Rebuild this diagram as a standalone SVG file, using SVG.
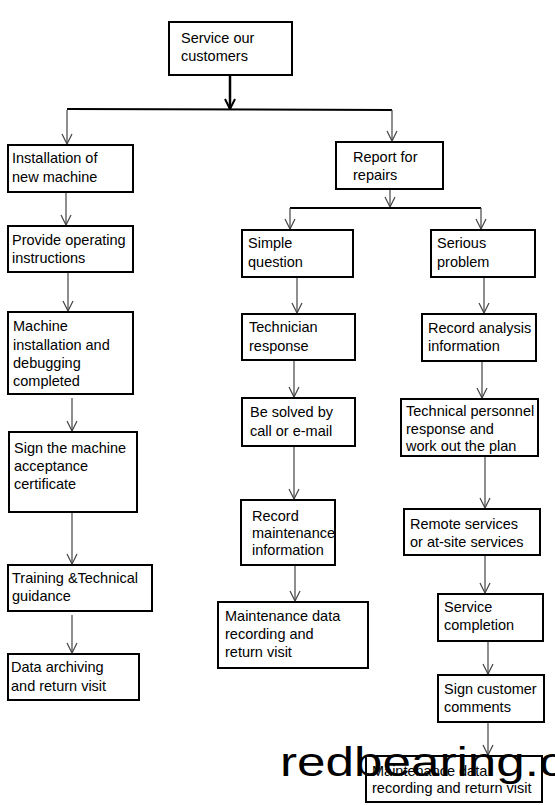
<svg xmlns="http://www.w3.org/2000/svg" width="555" height="805" viewBox="0 0 555 805">
<style>
.box{fill:none;stroke:#000;stroke-width:2}
.t{font-family:"Liberation Sans",Arial,sans-serif;font-size:14.5px;fill:#000}
.c{stroke:#444;stroke-width:1.2;fill:none;marker-end:url(#ah)}
.bar{stroke:#000;stroke-width:2;fill:none}
.wm{font-family:"Liberation Sans",Arial,sans-serif;font-size:40px;fill:#000}
</style>
<defs>
<marker id="ah" viewBox="-11 -6 12 12" refX="0" refY="0" markerWidth="12" markerHeight="12" markerUnits="userSpaceOnUse" orient="auto">
<path d="M-10,-5 L0,0 L-10,5" fill="none" stroke="#444" stroke-width="1.2"/>
</marker>
<marker id="ahb" viewBox="-11 -6 12 12" refX="0" refY="0" markerWidth="12" markerHeight="12" markerUnits="userSpaceOnUse" orient="auto">
<path d="M-10,-5 L0,0 L-10,5" fill="none" stroke="#000" stroke-width="2"/>
</marker>
</defs>
<rect width="555" height="805" fill="#fff"/>
<g id="connectors">
<line x1="230" y1="75" x2="230" y2="109" stroke="#000" stroke-width="2.5" marker-end="url(#ahb)"/>
<line class="bar" x1="67" y1="109" x2="392" y2="110"/>
<line class="c" x1="67" y1="110" x2="67" y2="144"/>
<line class="c" x1="392" y1="110" x2="392" y2="141"/>
<line class="c" x1="390" y1="189" x2="390" y2="207"/>
<line class="bar" x1="290" y1="208" x2="481" y2="208"/>
<line class="c" x1="290" y1="208" x2="290" y2="229"/>
<line class="c" x1="481" y1="208" x2="481" y2="229"/>
<line class="c" x1="66" y1="192" x2="66" y2="225"/>
<line class="c" x1="68" y1="272" x2="68" y2="311"/>
<line class="c" x1="72" y1="398" x2="72" y2="431"/>
<line class="c" x1="72" y1="513" x2="72" y2="564"/>
<line class="c" x1="72" y1="615" x2="72" y2="653"/>
<line class="c" x1="297" y1="277" x2="297" y2="313"/>
<line class="c" x1="294" y1="361" x2="294" y2="397"/>
<line class="c" x1="294" y1="446" x2="294" y2="499"/>
<line class="c" x1="295" y1="566" x2="295" y2="601"/>
<line class="c" x1="484" y1="277" x2="484" y2="313"/>
<line class="c" x1="482" y1="361" x2="482" y2="398"/>
<line class="c" x1="485" y1="456" x2="485" y2="508"/>
<line class="c" x1="485" y1="556" x2="485" y2="593"/>
<line class="c" x1="488" y1="641" x2="488" y2="674"/>
<line class="c" x1="488" y1="722" x2="488" y2="755"/>
</g>
<g id="n-service">
<rect class="box" x="169" y="22" width="123" height="53"/>
<text class="t" x="181" y="43">Service our</text>
<text class="t" x="181" y="61">customers</text>
</g>
<g id="n-install">
<rect class="box" x="8" y="145" width="125" height="47"/>
<text class="t" x="12" y="163">Installation of</text>
<text class="t" x="12" y="182">new machine</text>
</g>
<g id="n-report">
<rect class="box" x="336" y="142" width="107" height="47"/>
<text class="t" x="353" y="162">Report for</text>
<text class="t" x="353" y="180">repairs</text>
</g>
<g id="n-provide">
<rect class="box" x="8" y="226" width="125" height="46"/>
<text class="t" x="12" y="245">Provide operating</text>
<text class="t" x="12" y="263">instructions</text>
</g>
<g id="n-machine">
<rect class="box" x="8" y="312" width="125" height="82"/>
<text class="t" x="13" y="331">Machine</text>
<text class="t" x="13" y="350">installation and</text>
<text class="t" x="13" y="368">debugging</text>
<text class="t" x="13" y="386">completed</text>
</g>
<g id="n-sign">
<rect class="box" x="9" y="432" width="128" height="80"/>
<text class="t" x="14" y="453">Sign the machine</text>
<text class="t" x="14" y="471">acceptance</text>
<text class="t" x="14" y="489">certificate</text>
</g>
<g id="n-training">
<rect class="box" x="8" y="565" width="144" height="46"/>
<text class="t" x="12" y="583">Training &amp;Technical</text>
<text class="t" x="12" y="601">guidance</text>
</g>
<g id="n-archive">
<rect class="box" x="8" y="654" width="131" height="46"/>
<text class="t" x="11" y="672">Data archiving</text>
<text class="t" x="11" y="691">and return visit</text>
</g>
<g id="n-simple">
<rect class="box" x="242" y="230" width="111" height="47"/>
<text class="t" x="248" y="248">Simple</text>
<text class="t" x="248" y="267">question</text>
</g>
<g id="n-technician">
<rect class="box" x="242" y="314" width="113" height="46"/>
<text class="t" x="249" y="332">Technician</text>
<text class="t" x="249" y="351">response</text>
</g>
<g id="n-solved">
<rect class="box" x="242" y="398" width="113" height="48"/>
<text class="t" x="250" y="417">Be solved by</text>
<text class="t" x="250" y="436">call or e-mail</text>
</g>
<g id="n-recordmaint">
<rect class="box" x="241" y="500" width="94" height="65"/>
<text class="t" x="252" y="521">Record</text>
<text class="t" x="252" y="538">maintenance</text>
<text class="t" x="252" y="555">information</text>
</g>
<g id="n-maintdata1">
<rect class="box" x="218" y="602" width="150" height="66"/>
<text class="t" x="225" y="621">Maintenance data</text>
<text class="t" x="225" y="639">recording and</text>
<text class="t" x="225" y="657">return visit</text>
</g>
<g id="n-serious">
<rect class="box" x="431" y="230" width="104" height="47"/>
<text class="t" x="437" y="248">Serious</text>
<text class="t" x="437" y="267">problem</text>
</g>
<g id="n-recordanalysis">
<rect class="box" x="422" y="314" width="114" height="47"/>
<text class="t" x="428" y="333">Record analysis</text>
<text class="t" x="428" y="351">information</text>
</g>
<g id="n-techpersonnel">
<rect class="box" x="401" y="399" width="137" height="57"/>
<text class="t" x="406" y="416">Technical personnel</text>
<text class="t" x="406" y="434">response and</text>
<text class="t" x="406" y="451">work out the plan</text>
</g>
<g id="n-remote">
<rect class="box" x="404" y="509" width="136" height="46"/>
<text class="t" x="410" y="529">Remote services</text>
<text class="t" x="410" y="547">or at-site services</text>
</g>
<g id="n-completion">
<rect class="box" x="438" y="594" width="105" height="47"/>
<text class="t" x="444" y="612">Service</text>
<text class="t" x="444" y="630">completion</text>
</g>
<g id="n-signcomments">
<rect class="box" x="438" y="675" width="106" height="47"/>
<text class="t" x="444" y="694">Sign customer</text>
<text class="t" x="444" y="712">comments</text>
</g>
<g id="n-maintdata2">
<rect class="box" x="366" y="756" width="176" height="46"/>
<text class="t" x="372" y="776">Maintenance data</text>
<text class="t" x="372" y="793">recording and return visit</text>
</g>
<text class="wm" transform="translate(280,776) scale(1.28,1)" x="0" y="0">redbearing.c</text>
</svg>
